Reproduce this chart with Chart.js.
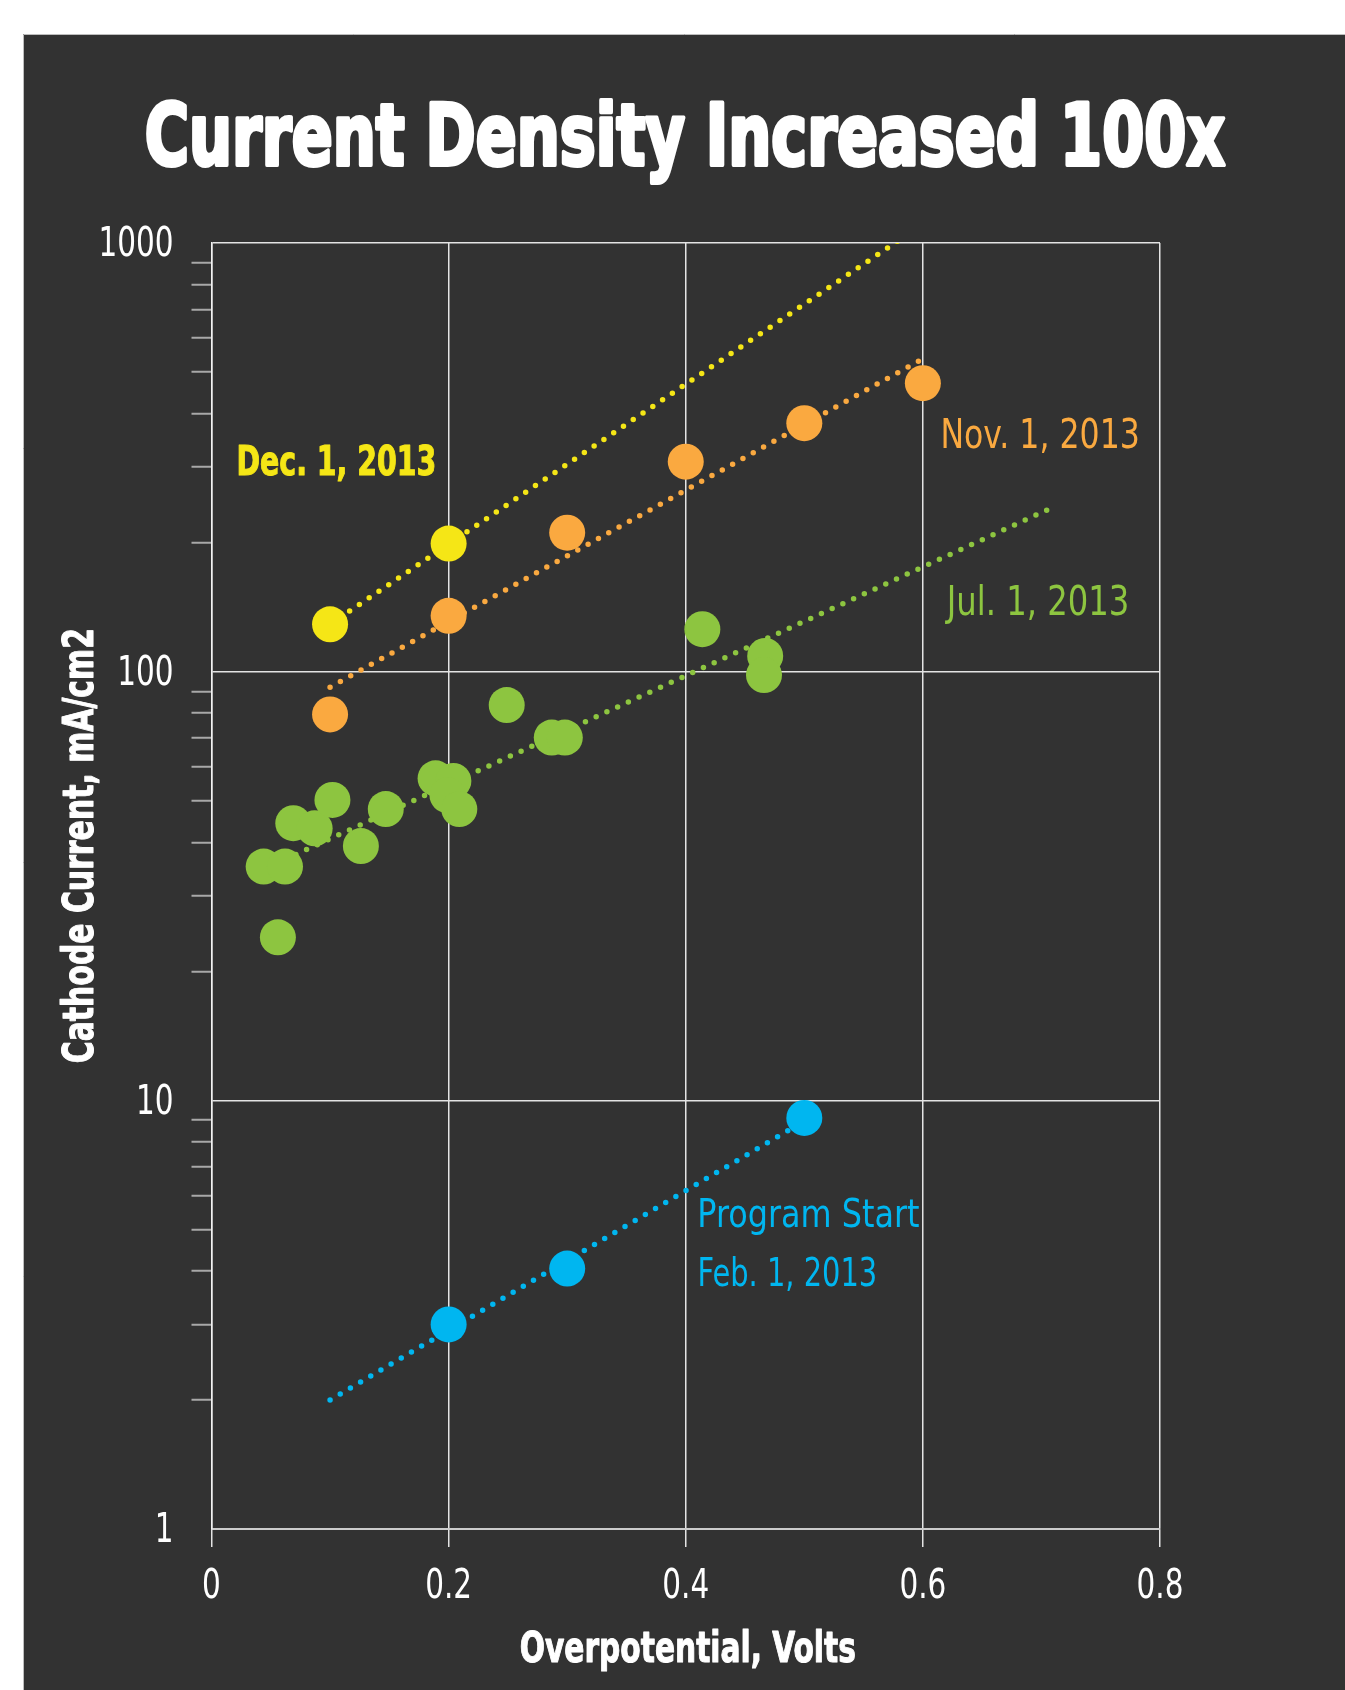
<!DOCTYPE html>
<html>
<head>
<meta charset="utf-8">
<script src="https://cdn.jsdelivr.net/npm/chart.js@4.4.1/dist/chart.umd.min.js"></script>
<style>
html,body{margin:0;padding:0;background:#ffffff;}
canvas{display:block;}
</style>
</head>
<body>
<canvas id="c" width="1345" height="1690"></canvas>
<script>
// ---------------- DATA ----------------
const xTickLabels = ['0', '0.2', '0.4', '0.6', '0.8'];
const yTickLabels = ['1', '10', '100', '1000'];
const yMinorMultipliers = [2, 3, 4, 5, 6, 7, 8, 9];

// Program Start, Feb. 1, 2013
const febX = [0.2, 0.3, 0.5];
const febY = [3.0, 4.05, 9.1];
// Jul. 1, 2013
const julX = [0.044, 0.062, 0.056, 0.069, 0.087, 0.102, 0.126, 0.147, 0.189, 0.204, 0.199, 0.209, 0.249, 0.287, 0.298, 0.414, 0.467, 0.466];
const julY = [35.1, 35.1, 24.0, 44.3, 43.1, 50.2, 39.2, 47.8, 56.4, 55.6, 51.5, 47.8, 83.6, 70.2, 70.2, 125.6, 108.8, 98.2];
// Nov. 1, 2013
const novX = [0.1, 0.2, 0.3, 0.4, 0.5, 0.6];
const novY = [79.5, 135, 211, 309, 380, 471];
// Dec. 1, 2013
const decX = [0.1, 0.2];
const decY = [129, 199];

// exponential trend lines (straight on the log axis): end points
const febTrendX = [0.1, 0.5];
const febTrendY = [2.0, 8.95];
const julTrendX = [0.044, 0.71];
const julTrendY = [34.6, 242];
const novTrendX = [0.1, 0.6];
const novTrendY = [92, 537];
const decTrendX = [0.1, 0.6];
const decTrendY = [129, 1107];

const seriesNames = ['Program Start Feb. 1, 2013', 'Jul. 1, 2013', 'Nov. 1, 2013', 'Dec. 1, 2013'];
const titleText = 'Current Density Increased 100x';
const xTitleText = 'Overpotential, Volts';
const yTitleText = 'Cathode Current, mA/cm2';

// ---------------- STYLE ----------------
const COL = { feb: '#00B6F0', jul: '#8DC540', nov: '#FAA940', dec: '#F5E616' };
const BG = '#323232';

function fontAvailable(name) {
  const c = document.createElement('canvas').getContext('2d');
  const s = 'abcdefghijklmnopqrstuvwxyzABCDEFGHIJ0123456789';
  c.font = '40px monospace';
  const w1 = c.measureText(s).width;
  c.font = '40px "' + name + '", monospace';
  const w2 = c.measureText(s).width;
  return Math.abs(w1 - w2) > 0.5;
}
const FONT = ['Liberation Sans Narrow', 'DejaVu Sans Condensed', 'Roboto', 'Liberation Sans'].find(fontAvailable) || 'sans-serif';
const TICK_SIZE = 40;

const pts = (xs, ys) => xs.map((x, i) => ({ x: x, y: ys[i] }));
const isMajor = v => Math.abs(Math.log10(v) - Math.round(Math.log10(v))) < 1e-9;

function pointSet(label, xs, ys, color) {
  return {
    label: label, data: pts(xs, ys), order: 0,
    backgroundColor: color, borderColor: color,
    pointRadius: 18, pointHoverRadius: 18, pointBorderWidth: 0, showLine: false
  };
}
function trendSet(label, xs, ys, color) {
  return {
    label: label + ' trend', data: pts(xs, ys), order: 1,
    showLine: true, pointRadius: 0, pointHoverRadius: 0,
    borderColor: color, backgroundColor: color, borderWidth: 5.5,
    borderDash: [0, 11.8], borderCapStyle: 'round', tension: 0, fill: false
  };
}

// ---------------- TEXT ----------------
const texts = [
  { text: titleText, weight: 'bold', color: '#ffffff', x0: 147, x1: 1225, base: 165, cap: 62, stroke: 4 },
  { text: xTitleText, weight: 'bold', color: '#ffffff', x0: 520.5, x1: 854.5, base: 1661.5, cap: 31, stroke: 1 },
  { text: yTitleText, weight: 'bold', color: '#ffffff', rotate: true, y0: 1062.5, y1: 630.5, base: 92.8, cap: 30.5, stroke: 1 },
  { text: seriesNames[3], weight: 'bold', color: COL.dec, x0: 238.8, x1: 434.5, base: 474.5, cap: 29.5, stroke: 1 },
  { text: seriesNames[2], weight: 'normal', color: COL.nov, x0: 943, x1: 1137.7, base: 448.3, cap: 30 },
  { text: seriesNames[1], weight: 'normal', color: COL.jul, x0: 945, x1: 1127, base: 615, cap: 30 },
  { text: 'Program Start', weight: 'normal', color: COL.feb, x0: 700, x1: 919.6, base: 1226.7, cap: 28.7 },
  { text: 'Feb. 1, 2013', weight: 'normal', color: COL.feb, x0: 700, x1: 875, base: 1286, cap: 29 }
];

function capRatio(ctx, weight) {
  ctx.font = weight + ' 100px "' + FONT + '", sans-serif';
  return ctx.measureText('H').actualBoundingBoxAscent / 100;
}
function fitText(ctx, o) {
  ctx.save();
  const size = o.cap / capRatio(ctx, o.weight);
  ctx.font = o.weight + ' ' + size + 'px "' + FONT + '", sans-serif';
  ctx.textAlign = 'left';
  ctx.textBaseline = 'alphabetic';
  const m = ctx.measureText(o.text);
  const ink = m.actualBoundingBoxLeft + m.actualBoundingBoxRight;
  ctx.fillStyle = o.color;
  ctx.strokeStyle = o.color;
  if (o.rotate) {
    ctx.translate(o.base, o.y0);
    ctx.rotate(-Math.PI / 2);
    ctx.scale((o.y0 - o.y1) / ink, 1);
  } else {
    ctx.translate(o.x0, o.base);
    ctx.scale((o.x1 - o.x0) / ink, 1);
  }
  ctx.fillText(o.text, m.actualBoundingBoxLeft, 0);
  if (o.stroke) {
    ctx.lineWidth = o.stroke;
    ctx.lineJoin = 'round';
    ctx.strokeText(o.text, m.actualBoundingBoxLeft, 0);
  }
  ctx.restore();
}

const backgroundPlugin = {
  id: 'bg',
  beforeDraw(chart) {
    const ctx = chart.ctx;
    ctx.save();
    ctx.fillStyle = '#ffffff';
    ctx.fillRect(0, 0, chart.width, chart.height);
    ctx.fillStyle = BG;
    ctx.fillRect(23, 34, chart.width - 23, chart.height - 34);
    ctx.strokeStyle = '#bdbdbd';
    ctx.lineWidth = 1;
    ctx.beginPath();
    ctx.moveTo(23.5, chart.height); ctx.lineTo(23.5, 34.5); ctx.lineTo(chart.width, 34.5);
    ctx.stroke();
    ctx.restore();
  }
};
// narrows the library's own tick labels (condensed look of the original)
const tickSquashPlugin = {
  id: 'tickSquash',
  beforeDraw(chart) {
    const ctx = chart.ctx;
    ctx.save();
    ctx.font = 'normal ' + TICK_SIZE + 'px "' + FONT + '", sans-serif';
    const m = ctx.measureText('1000');
    ctx.restore();
    const sx = Math.min(1, 71 / (m.actualBoundingBoxLeft + m.actualBoundingBoxRight));
    const orig = CanvasRenderingContext2D.prototype.fillText;
    ctx.fillText = function (t, x, y, w) {
      this.save();
      this.translate(x, y + (this.textAlign === 'right' ? 3 : 0));
      this.scale(sx, 1);
      orig.call(this, t, 0, 0);
      this.restore();
    };
  },
  beforeDatasetsDraw(chart) { delete chart.ctx.fillText; }
};
const textPlugin = {
  id: 'texts',
  afterDraw(chart) {
    delete chart.ctx.fillText;
    texts.forEach(o => fitText(chart.ctx, o));
  }
};

// ---------------- CHART ----------------
const xTickValues = xTickLabels.map(Number);
const yTickValues = [];
yTickLabels.map(Number).forEach((d, i, arr) => {
  yTickValues.push(d);
  if (i < arr.length - 1) yMinorMultipliers.forEach(m => yTickValues.push(d * m));
});
yTickValues.sort((a, b) => a - b);

const GRID = '#e4e4e4';

new Chart(document.getElementById('c').getContext('2d'), {
  type: 'scatter',
  data: {
    datasets: [
      pointSet(seriesNames[0], febX, febY, COL.feb),
      pointSet(seriesNames[1], julX, julY, COL.jul),
      pointSet(seriesNames[2], novX, novY, COL.nov),
      pointSet(seriesNames[3], decX, decY, COL.dec),
      trendSet(seriesNames[0], febTrendX, febTrendY, COL.feb),
      trendSet(seriesNames[1], julTrendX, julTrendY, COL.jul),
      trendSet(seriesNames[2], novTrendX, novTrendY, COL.nov),
      trendSet(seriesNames[3], decTrendX, decTrendY, COL.dec)
    ]
  },
  options: {
    responsive: false,
    animation: false,
    events: [],
    devicePixelRatio: 1,
    layout: { padding: { left: 0, top: 243, right: 185, bottom: 0 } },
    plugins: {
      legend: { display: false },
      tooltip: { enabled: false },
      title: { display: false }
    },
    scales: {
      x: {
        type: 'linear', min: 0, max: 0.8,
        afterBuildTicks: s => { s.ticks = xTickValues.map(v => ({ value: v })); },
        afterFit: s => { s.height = 161; },
        ticks: {
          callback: (v, i) => xTickLabels[i],
          color: '#ffffff', autoSkip: false, maxRotation: 0, minRotation: 0,
          padding: 17,
          font: { family: FONT, size: TICK_SIZE, weight: 'normal' }
        },
        grid: { color: GRID, lineWidth: 1.5, drawTicks: true, tickLength: 18, tickColor: GRID, tickWidth: 1.5 },
        border: { display: true, color: '#cccccc', width: 2 }
      },
      y: {
        type: 'logarithmic', min: 1, max: 1000,
        afterBuildTicks: s => { s.ticks = yTickValues.map(v => ({ value: v, major: isMajor(v) })); },
        afterFit: s => { s.width = 211.5; },
        ticks: {
          callback: v => isMajor(v) ? (yTickLabels.find(l => Number(l) === v) || '') : '',
          color: '#ffffff', autoSkip: false, padding: 18,
          font: { family: FONT, size: TICK_SIZE, weight: 'normal' }
        },
        grid: {
          color: c => (c.tick && isMajor(c.tick.value)) ? GRID : 'rgba(0,0,0,0)',
          tickColor: c => (c.tick && isMajor(c.tick.value)) ? 'rgba(0,0,0,0)' : '#a8a8a8',
          lineWidth: 1.5, tickWidth: 2, drawTicks: true, tickLength: 20
        },
        border: { display: true, color: '#f2f2f2', width: 1.5 }
      }
    }
  },
  plugins: [backgroundPlugin, tickSquashPlugin, textPlugin]
});
</script>
</body>
</html>
